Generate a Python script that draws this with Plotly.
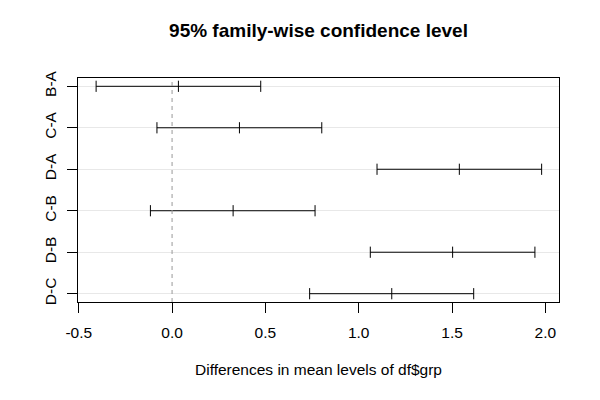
import plotly.graph_objects as go

# Tukey HSD comparisons (top to bottom)
comparisons = ['B-A', 'C-A', 'D-A', 'C-B', 'D-B', 'D-C']
diff = [0.034, 0.361, 1.539, 0.327, 1.503, 1.177]
lwr = [-0.407, -0.081, 1.098, -0.116, 1.062, 0.737]
upr = [0.475, 0.802, 1.980, 0.766, 1.944, 1.616]

x_ticks = [-0.5, 0.0, 0.5, 1.0, 1.5, 2.0]
x_tick_text = ['-0.5', '0.0', '0.5', '1.0', '1.5', '2.0']

# page body has an 8px margin, so shift everything back by that
OFF = 8

fig = go.Figure()

# interval segments
seg_x, seg_y = [], []
for c, lo, hi in zip(comparisons, lwr, upr):
    seg_x += [lo, hi, None]
    seg_y += [c, c, None]

fig.add_trace(go.Scatter(
    x=seg_x, y=seg_y, mode='lines',
    line=dict(color='black', width=1),
    showlegend=False, hoverinfo='skip'
))

# end caps and centre marks
fig.add_trace(go.Scatter(
    x=lwr + diff + upr,
    y=comparisons * 3,
    mode='markers',
    marker=dict(symbol='line-ns', size=8, line=dict(color='black', width=1)),
    showlegend=False
))

fig.add_vline(x=0, line=dict(color='#999999', width=1, dash='4px,4px'))

fig.update_layout(
    width=600, height=400,
    margin=dict(l=78 - OFF, r=41 + OFF, t=78 - OFF, b=98 + OFF),
    paper_bgcolor='white', plot_bgcolor='white',
    font=dict(family='Liberation Sans, Arial', size=15.5, color='black'),
    title=dict(text='<b>95% family-wise confidence level</b>',
               x=((78 + 559) / 2 - OFF) / 600, xanchor='center',
               y=1 - (30 - OFF) / 400, yanchor='middle',
               font=dict(size=19)),
    xaxis=dict(
        range=[-0.504, 2.073],
        tickvals=x_ticks, ticktext=x_tick_text,
        ticks='outside', ticklen=10, tickcolor='black',
        ticklabelstandoff=6,
        showline=True, linecolor='black', linewidth=1, mirror=True,
        showgrid=False, zeroline=False, automargin=False,
        title=dict(text='Differences in mean levels of df$grp', standoff=24,
                   font=dict(size=15.5)),
    ),
    yaxis=dict(
        type='category',
        categoryorder='array', categoryarray=comparisons,
        range=[5.2, -0.2],
        tickangle=-90,
        ticks='outside', ticklen=10, tickcolor='black',
        ticklabelstandoff=5,
        showline=True, linecolor='black', linewidth=1, mirror=True,
        showgrid=True, gridcolor='#e8e8e8', gridwidth=1,
        zeroline=False, automargin=False,
    ),
)

fig.write_html('out.html')
